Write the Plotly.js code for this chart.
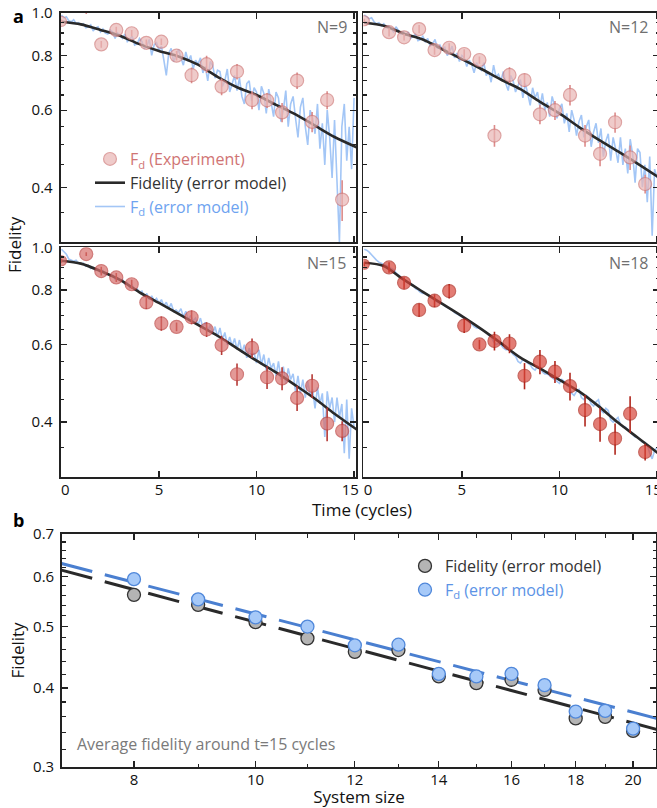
<!DOCTYPE html>
<html>
<head>
<meta charset="utf-8">
<script src="https://cdn.plot.ly/plotly-3.0.1.min.js"></script>
<style>
html,body{margin:0;padding:0;overflow:hidden;background:#fff;}
#chart{width:680px;height:808px;}
</style>
</head>
<body>
<div id="chart"></div>
<script>
// ---------- Panel a : experiment points ----------
const tExp = [0, 1.27, 2.04, 2.81, 3.6, 4.35, 5.12, 5.9, 6.67, 7.44, 8.21, 9.0, 9.77, 10.54, 11.31, 12.08, 12.85, 13.62, 14.39];
const fExp9  = [0.957, 1.06, 0.848, 0.915, 0.899, 0.855, 0.86, 0.799, 0.721, 0.764, 0.679, 0.735, 0.633, 0.632, 0.593, 0.701, 0.564, 0.633, 0.375];
const eExp9  = [0.01, 0.065, 0.015, 0.015, 0.015, 0.015, 0.015, 0.02, 0.03, 0.035, 0.03, 0.03, 0.03, 0.025, 0.03, 0.03, 0.03, 0.03, 0.04];
const fExp12 = [0.960, 0.904, 0.880, 0.919, 0.823, 0.833, 0.806, 0.781, 0.525, 0.722, 0.703, 0.587, 0.600, 0.650, 0.525, 0.477, 0.563, 0.468, 0.407];
const eExp12 = [0.01, 0.02, 0.015, 0.02, 0.02, 0.02, 0.02, 0.015, 0.03, 0.03, 0.025, 0.03, 0.03, 0.035, 0.03, 0.03, 0.03, 0.03, 0.02];
const fExp15 = [0.932, 0.965, 0.883, 0.854, 0.824, 0.749, 0.671, 0.659, 0.693, 0.650, 0.599, 0.514, 0.590, 0.506, 0.503, 0.454, 0.484, 0.397, 0.382];
const eExp15 = [0.01, 0.01, 0.02, 0.02, 0.02, 0.025, 0.025, 0.015, 0.025, 0.025, 0.03, 0.03, 0.03, 0.03, 0.03, 0.03, 0.03, 0.035, 0.02];
const fExp18 = [0.915, 0.900, 0.830, 0.720, 0.756, 0.795, 0.663, 0.601, 0.612, 0.604, 0.510, 0.549, 0.521, 0.483, 0.426, 0.396, 0.367, 0.418, 0.342];
const eExp18 = [0.01, 0.025, 0.025, 0.025, 0.025, 0.03, 0.025, 0.015, 0.03, 0.03, 0.035, 0.035, 0.03, 0.035, 0.035, 0.035, 0.03, 0.04, 0.015];

// ---------- Panel a : error model fidelity (black) ----------
const tModel = [0, 1, 2, 3, 4, 5, 6, 7, 8, 9, 10, 11, 12, 13, 14, 15.2];
const mF9  = [0.955, 0.942, 0.915, 0.887, 0.849, 0.819, 0.796, 0.762, 0.715, 0.677, 0.650, 0.617, 0.587, 0.553, 0.521, 0.492];
const mF12 = [0.950, 0.935, 0.898, 0.870, 0.826, 0.785, 0.745, 0.705, 0.670, 0.627, 0.590, 0.549, 0.514, 0.483, 0.453, 0.418];
const mF15 = [0.932, 0.918, 0.883, 0.843, 0.790, 0.747, 0.705, 0.666, 0.629, 0.589, 0.552, 0.519, 0.485, 0.452, 0.418, 0.383];
const mF18 = [0.922, 0.907, 0.845, 0.792, 0.743, 0.697, 0.651, 0.605, 0.561, 0.530, 0.499, 0.470, 0.435, 0.399, 0.369, 0.336];

// ---------- Panel a : error model Fd (light blue, noisy) ----------
const tNoise = [0, 0.125, 0.25, 0.375, 0.5, 0.625, 0.75, 0.875, 1,
  1.125, 1.25, 1.375, 1.5, 1.625, 1.75, 1.875, 2,
  2.125, 2.25, 2.375, 2.5, 2.625, 2.75, 2.875, 3,
  3.125, 3.25, 3.375, 3.5, 3.625, 3.75, 3.875, 4,
  4.125, 4.25, 4.375, 4.5, 4.625, 4.75, 4.875, 5,
  5.125, 5.25, 5.375, 5.5, 5.625, 5.75, 5.875, 6,
  6.125, 6.25, 6.375, 6.5, 6.625, 6.75, 6.875, 7,
  7.125, 7.25, 7.375, 7.5, 7.625, 7.75, 7.875, 8,
  8.125, 8.25, 8.375, 8.5, 8.625, 8.75, 8.875, 9,
  9.125, 9.25, 9.375, 9.5, 9.625, 9.75, 9.875, 10,
  10.125, 10.25, 10.375, 10.5, 10.625, 10.75, 10.875, 11,
  11.125, 11.25, 11.375, 11.5, 11.625, 11.75, 11.875, 12,
  12.125, 12.25, 12.375, 12.5, 12.625, 12.75, 12.875, 13,
  13.125, 13.25, 13.375, 13.5, 13.625, 13.75, 13.875, 14,
  14.125, 14.25, 14.375, 14.5, 14.625, 14.75, 14.875, 15];
const fdN9 = [0.99, 0.975, 0.98, 0.96, 0.955, 0.965, 0.945, 0.95, 0.94,
  0.945, 0.925, 0.93, 0.94, 0.91, 0.925, 0.93, 0.905,
  0.92, 0.90, 0.895, 0.915, 0.905, 0.875, 0.90, 0.89,
  0.875, 0.895, 0.86, 0.87, 0.885, 0.845, 0.85, 0.875,
  0.86, 0.83, 0.84, 0.87, 0.80, 0.845, 0.855, 0.82,
  0.84, 0.78, 0.72, 0.81, 0.83, 0.775, 0.80, 0.825,
  0.79, 0.76, 0.815, 0.775, 0.80, 0.745, 0.78, 0.765,
  0.79, 0.73, 0.755, 0.70, 0.775, 0.76, 0.71, 0.74,
  0.735, 0.68, 0.70, 0.745, 0.66, 0.69, 0.72, 0.665,
  0.71, 0.645, 0.62, 0.69, 0.70, 0.63, 0.675, 0.66,
  0.60, 0.68, 0.655, 0.59, 0.67, 0.625, 0.58, 0.66,
  0.64, 0.565, 0.60, 0.665, 0.55, 0.62, 0.645, 0.575,
  0.52, 0.61, 0.64, 0.55, 0.50, 0.60, 0.575, 0.53,
  0.62, 0.49, 0.56, 0.45, 0.60, 0.52, 0.42, 0.57,
  0.40, 0.30, 0.55, 0.62, 0.46, 0.55, 0.44, 0.64];
const fdN12 = [0.99, 0.98, 0.97, 0.975, 0.955, 0.945, 0.95, 0.935, 0.945,
  0.925, 0.935, 0.92, 0.905, 0.93, 0.91, 0.895, 0.905,
  0.89, 0.905, 0.875, 0.885, 0.895, 0.865, 0.87, 0.885,
  0.86, 0.875, 0.84, 0.85, 0.87, 0.83, 0.845, 0.825,
  0.835, 0.80, 0.815, 0.84, 0.79, 0.81, 0.775, 0.80,
  0.79, 0.755, 0.78, 0.765, 0.73, 0.77, 0.75, 0.74,
  0.77, 0.72, 0.735, 0.695, 0.76, 0.715, 0.725, 0.70,
  0.735, 0.69, 0.665, 0.72, 0.70, 0.66, 0.685, 0.705,
  0.64, 0.69, 0.655, 0.615, 0.675, 0.64, 0.66, 0.61,
  0.655, 0.60, 0.625, 0.58, 0.645, 0.615, 0.575, 0.605,
  0.62, 0.56, 0.59, 0.535, 0.60, 0.57, 0.525, 0.565,
  0.585, 0.52, 0.55, 0.57, 0.495, 0.535, 0.56, 0.505,
  0.545, 0.47, 0.51, 0.53, 0.46, 0.52, 0.49, 0.455,
  0.52, 0.45, 0.49, 0.43, 0.515, 0.475, 0.41, 0.49,
  0.48, 0.40, 0.45, 0.37, 0.47, 0.31, 0.44, 0.42];
const fdN15 = [0.99, 0.975, 0.965, 0.94, 0.935, 0.93, 0.935, 0.92, 0.915,
  0.92, 0.905, 0.91, 0.895, 0.90, 0.885, 0.89, 0.875,
  0.885, 0.865, 0.87, 0.86, 0.865, 0.845, 0.85, 0.84,
  0.845, 0.825, 0.83, 0.81, 0.82, 0.80, 0.805, 0.79,
  0.795, 0.77, 0.785, 0.76, 0.775, 0.755, 0.765, 0.745,
  0.76, 0.735, 0.75, 0.725, 0.745, 0.715, 0.72, 0.71,
  0.725, 0.695, 0.715, 0.685, 0.70, 0.68, 0.69, 0.665,
  0.69, 0.655, 0.675, 0.645, 0.665, 0.635, 0.66, 0.625,
  0.655, 0.615, 0.64, 0.60, 0.625, 0.595, 0.62, 0.585,
  0.615, 0.575, 0.60, 0.56, 0.59, 0.565, 0.575, 0.545,
  0.585, 0.54, 0.57, 0.525, 0.56, 0.53, 0.545, 0.51,
  0.55, 0.50, 0.535, 0.49, 0.53, 0.50, 0.515, 0.47,
  0.51, 0.465, 0.50, 0.455, 0.495, 0.46, 0.475, 0.43,
  0.48, 0.44, 0.465, 0.37, 0.47, 0.43, 0.455, 0.40,
  0.455, 0.41, 0.44, 0.34, 0.45, 0.33, 0.43, 0.39];
const fdN18 = [0.99, 0.985, 0.975, 0.96, 0.95, 0.935, 0.925, 0.92, 0.915,
  0.91, 0.905, 0.895, 0.89, 0.875, 0.865, 0.855, 0.85,
  0.84, 0.83, 0.825, 0.82, 0.805, 0.80, 0.79, 0.785,
  0.785, 0.78, 0.77, 0.765, 0.755, 0.75, 0.745, 0.745,
  0.735, 0.73, 0.725, 0.72, 0.71, 0.705, 0.70, 0.695,
  0.69, 0.685, 0.675, 0.67, 0.66, 0.655, 0.655, 0.65,
  0.645, 0.64, 0.63, 0.625, 0.61, 0.60, 0.605, 0.60,
  0.59, 0.585, 0.585, 0.58, 0.57, 0.565, 0.55, 0.545,
  0.555, 0.55, 0.545, 0.54, 0.53, 0.525, 0.535, 0.535,
  0.52, 0.515, 0.515, 0.51, 0.505, 0.50, 0.495, 0.49,
  0.50, 0.495, 0.485, 0.48, 0.465, 0.46, 0.47, 0.475,
  0.455, 0.45, 0.46, 0.455, 0.44, 0.435, 0.445, 0.45,
  0.425, 0.42, 0.43, 0.425, 0.405, 0.40, 0.405, 0.41,
  0.395, 0.39, 0.39, 0.385, 0.38, 0.375, 0.37, 0.37,
  0.365, 0.36, 0.36, 0.355, 0.34, 0.33, 0.345, 0.35];

// ---------- Panel b ----------
const systemSizes = [8, 9, 10, 11, 12, 13, 14, 15, 16, 17, 18, 19, 20];
const fidModel = [0.561, 0.541, 0.508, 0.479, 0.456, 0.459, 0.417, 0.407, 0.412, 0.397, 0.358, 0.360, 0.342];
const fdModel  = [0.594, 0.552, 0.517, 0.500, 0.467, 0.468, 0.421, 0.417, 0.421, 0.404, 0.367, 0.368, 0.345];
const fitSizes = [7, 21];
const fitFid = [0.614, 0.343];
const fitFd  = [0.629, 0.357];

// tick labels
const timeTicks = [0, 5, 10, 15];
const timeTickText = ['\u20020', '5', '10', '15\u2002'];
const fidTicksA = [0.4, 0.6, 0.8, 1.0];
const fidTickTextA = ['0.4', '0.6', '0.8', '1.0'];
const fidMinorA = [0.3, 0.35, 0.45, 0.5, 0.55, 0.65, 0.7, 0.75, 0.85, 0.9, 0.95];
const sizeTicks = [8, 10, 12, 14, 16, 18, 20];
const sizeMinor = [7, 9, 11, 13, 15, 17, 19];
const fidTicksB = [0.3, 0.4, 0.5, 0.6, 0.7];
const fidTickTextB = ['0.3', '0.4', '0.5', '0.6', '0.7'];
const fidMinorB = [0.32, 0.34, 0.36, 0.38, 0.42, 0.44, 0.46, 0.48, 0.52, 0.54, 0.56, 0.58, 0.62, 0.64, 0.66, 0.68];

// ---------- build ----------
const W = 680, H = 808;
const FONT = '"Open Sans", "Noto Sans", sans-serif';
const fx = p => p / W;
const fy = p => 1 - p / H;

const panels = [
  {N: 9,  ax: '',  exp: fExp9,  err: eExp9,  model: mF9,  fd: fdN9,  fill: '#e9b6b5', edge: '#d07b7a', bar: '#dc8b8a'},
  {N: 12, ax: '2', exp: fExp12, err: eExp12, model: mF12, fd: fdN12, fill: '#e9b6b5', edge: '#d07b7a', bar: '#dc8b8a'},
  {N: 15, ax: '3', exp: fExp15, err: eExp15, model: mF15, fd: fdN15, fill: '#d86f6c', edge: '#bd4341', bar: '#b53a36'},
  {N: 18, ax: '4', exp: fExp18, err: eExp18, model: mF18, fd: fdN18, fill: '#d8463a', edge: '#b0271d', bar: '#b0271d'}
];

const traces = [];
panels.forEach((p, k) => {
  const xa = 'x' + p.ax, ya = 'y' + p.ax;
  traces.push({
    type: 'scatter', mode: 'lines', x: tNoise, y: p.fd, xaxis: xa, yaxis: ya,
    line: {color: '#a3c6f6', width: 1.6},
    name: '<span style="color:#6ea3f0">F<sub>d</sub> (error model)</span>',
    showlegend: k === 0, legendrank: 3, legendgroup: 'g3', hoverinfo: 'skip'
  });
  traces.push({
    type: 'scatter', mode: 'lines', x: tModel, y: p.model, xaxis: xa, yaxis: ya,
    line: {color: '#2a2a2a', width: 2.6, shape: 'spline', smoothing: 0.8},
    name: 'Fidelity (error model)',
    showlegend: k === 0, legendrank: 2, legendgroup: 'g2', hoverinfo: 'skip'
  });
  traces.push({
    type: 'scatter', mode: 'markers', x: tExp, y: p.exp, xaxis: xa, yaxis: ya,
    marker: {size: tExp.map((v, i) => i === 0 ? 10 : 13), color: p.fill, line: {color: p.edge, width: 1.2}},
    error_y: {type: 'data', array: p.err, visible: true, color: p.bar, thickness: 1.6, width: 0},
    name: '<span style="color:#d07474">F<sub>d</sub> (Experiment)</span>',
    showlegend: k === 0, legendrank: 1, legendgroup: 'g1', hoverinfo: 'skip'
  });
});

// panel b
traces.push({
  type: 'scatter', mode: 'lines', x: fitSizes, y: fitFid, xaxis: 'x5', yaxis: 'y5',
  line: {color: '#2a2a2a', width: 3, dash: '32px,13px'}, showlegend: false, hoverinfo: 'skip'
});
traces.push({
  type: 'scatter', mode: 'lines', x: fitSizes, y: fitFd, xaxis: 'x5', yaxis: 'y5',
  line: {color: '#4a7fd0', width: 3, dash: '32px,13px'}, showlegend: false, hoverinfo: 'skip'
});
traces.push({
  type: 'scatter', mode: 'markers', x: systemSizes, y: fidModel, xaxis: 'x5', yaxis: 'y5',
  marker: {size: 13, color: '#b4b4b4', line: {color: '#333333', width: 1.3}},
  name: 'Fidelity (error model)', legend: 'legend2', legendgroup: 'b1', hoverinfo: 'skip'
});
traces.push({
  type: 'scatter', mode: 'markers', x: systemSizes, y: fdModel, xaxis: 'x5', yaxis: 'y5',
  marker: {size: 13, color: '#a6c9f8', line: {color: '#4f87da', width: 1.3}},
  name: '<span style="color:#5b93e6">F<sub>d</sub> (error model)</span>', legend: 'legend2', legendgroup: 'b2', hoverinfo: 'skip'
});

const frame = {
  showline: true, linecolor: '#222', linewidth: 1.8, mirror: 'ticks',
  ticks: 'inside', ticklen: 6, tickwidth: 1.3, tickcolor: '#222',
  showgrid: false, zeroline: false,
  tickfont: {family: FONT, size: 15, color: '#111'}, ticklabelstandoff: 3
};

function xA(dom, anchor, labels) {
  return Object.assign({}, frame, {
    domain: dom, anchor: anchor, range: [-0.05, 15.1],
    tickmode: 'array', tickvals: timeTicks, ticktext: timeTickText, showticklabels: labels,
    ticklabelstandoff: -2
  });
}
function yA(dom, anchor, labels) {
  return Object.assign({}, frame, {
    domain: dom, anchor: anchor, type: 'log', range: [Math.log10(0.3), 0],
    tickmode: 'array', tickvals: fidTicksA, ticktext: fidTickTextA, showticklabels: labels,
    minor: {tickmode: 'array', tickvals: fidMinorA, ticks: 'inside', ticklen: 3.5, tickwidth: 1.2, tickcolor: '#222', showgrid: false}
  });
}

const dxL = [fx(60.5), fx(356)], dxR = [fx(363.3), fx(659)];
const dyT = [fy(242), fy(13)], dyB = [fy(477), fy(247.3)];

function note(text, x, y, size, color, extra) {
  return Object.assign({text: text, x: fx(x), y: fy(y), xref: 'paper', yref: 'paper', showarrow: false,
    xanchor: 'center', yanchor: 'middle', font: {family: FONT, size: size, color: color}}, extra || {});
}

const layout = {
  width: W, height: H, margin: {l: 0, r: 0, t: 0, b: 0},
  paper_bgcolor: '#fff', plot_bgcolor: 'rgba(0,0,0,0)',
  font: {family: FONT, color: '#222'},
  xaxis: xA(dxL, 'y', false),  yaxis: yA(dyT, 'x', true),
  xaxis2: xA(dxR, 'y2', false), yaxis2: yA(dyT, 'x2', false),
  xaxis3: xA(dxL, 'y3', true),  yaxis3: yA(dyB, 'x3', true),
  xaxis4: xA(dxR, 'y4', true),  yaxis4: yA(dyB, 'x4', false),
  xaxis5: Object.assign({}, frame, {
    domain: [fx(62), fx(656)], anchor: 'y5', type: 'log', range: [0.8457, 1.3193],
    tickmode: 'array', tickvals: sizeTicks, ticktext: sizeTicks.map(String), ticklabelstandoff: -2,
    minor: {tickmode: 'array', tickvals: sizeMinor, ticks: 'inside', ticklen: 3.5, tickwidth: 1.2, tickcolor: '#222', showgrid: false},
    title: {text: 'System size', font: {family: FONT, size: 17, color: '#111'}, standoff: 7}
  }),
  yaxis5: Object.assign({}, frame, {
    domain: [fy(767), fy(534)], anchor: 'x5', type: 'log', range: [Math.log10(0.3), Math.log10(0.7)],
    tickmode: 'array', tickvals: fidTicksB, ticktext: fidTickTextB,
    minor: {tickmode: 'array', tickvals: fidMinorB, ticks: 'inside', ticklen: 3.5, tickwidth: 1.2, tickcolor: '#222', showgrid: false},
    title: {text: 'Fidelity', font: {family: FONT, size: 17, color: '#111'}, standoff: 4}
  }),
  legend: {
    x: fx(90), y: fy(142), xanchor: 'left', yanchor: 'top', bgcolor: 'rgba(0,0,0,0)',
    font: {family: FONT, size: 16, color: '#333'}, tracegroupgap: 10, itemwidth: 30, traceorder: 'normal'
  },
  legend2: {
    x: fx(405), y: fy(549), xanchor: 'left', yanchor: 'top', bgcolor: 'rgba(0,0,0,0)',
    font: {family: FONT, size: 16, color: '#333'}, tracegroupgap: 9, itemwidth: 30, traceorder: 'normal'
  },
  annotations: [
    note('<b>a</b>', 18, 16, 18, '#000'),
    note('<b>b</b>', 18, 520, 18, '#000'),
    note('N=9', 349, 27, 16, '#707070', {xanchor: 'right'}),
    note('N=12', 651, 27, 16, '#707070', {xanchor: 'right'}),
    note('N=15', 349, 263, 16, '#707070', {xanchor: 'right'}),
    note('N=18', 651, 263, 16, '#707070', {xanchor: 'right'}),
    note('Time (cycles)', 362, 509, 17, '#111'),
    note('Fidelity', 15, 245, 17, '#111', {textangle: -90}),
    note('Average fidelity around t=15 cycles', 75, 744, 16, '#7a7a7a', {xanchor: 'left'})
  ]
};

Plotly.newPlot('chart', traces, layout, {displayModeBar: false, staticPlot: true});
</script>
</body>
</html>
